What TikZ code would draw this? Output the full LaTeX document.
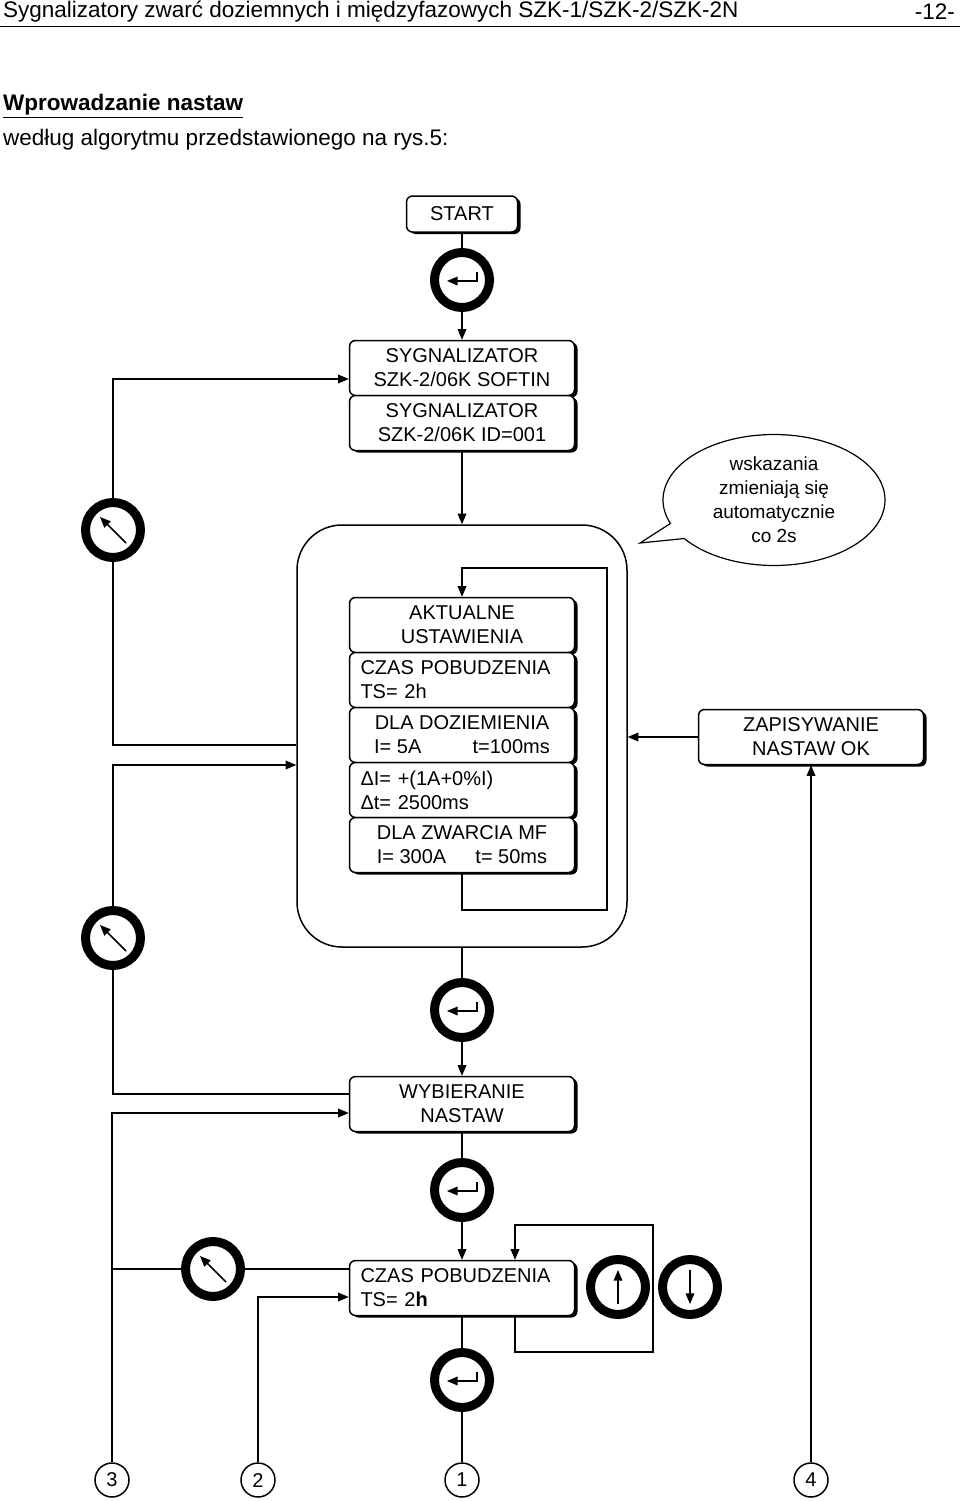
\documentclass[tikz,border=0pt]{standalone}
\usepackage{fontspec}
\setmainfont{Liberation Sans}
\usetikzlibrary{positioning, arrows, shapes, shadows, calc}
\tikzstyle{arrow} = [line width=1.5pt,->,>=triangle 45]
\tikzstyle{wire} = [line width=1.5pt]
\tikzstyle{panel} = [rectangle, rounded corners=6pt, draw=black, line width=1.5pt, fill=white, minimum width=225pt, minimum height=55pt, align=center, font=\fontsize{20}{24}\selectfont, general shadow={fill=black, shadow xshift=3pt, shadow yshift=-2pt}]
\tikzstyle{btn} = [circle, draw=black, line width=9pt, minimum size=55pt, inner sep=0pt, fill=white]
\tikzstyle{icon} = [line width=1.5pt,->,>=triangle 45]
\tikzstyle{conn} = [circle, draw=black, line width=1.5pt, minimum size=34pt, inner sep=0pt, fill=white, font=\fontsize{20}{22}\selectfont]
\newcommand{\enterkey}[2]{\node[btn] (#1) at (#2) {};
  \draw[icon] ($(#1)+(15,-8)$) -- ($(#1)+(15,1)$) -- ($(#1)+(-15,1)$);}
\newcommand{\esckey}[2]{\node[btn] (#1) at (#2) {};
  \draw[icon] ($(#1)+(13,13)$) -- ($(#1)+(-13,-13)$);}
\newcommand{\upkey}[2]{\node[btn] (#1) at (#2) {};
  \draw[icon] ($(#1)+(0,17)$) -- ($(#1)+(0,-17)$);}
\newcommand{\downkey}[2]{\node[btn] (#1) at (#2) {};
  \draw[icon] ($(#1)+(0,-17)$) -- ($(#1)+(0,17)$);}
\begin{document}
\begin{tikzpicture}[x=1pt, y=-1pt]
        \useasboundingbox (0,0) rectangle (960,1501);
        % header
        \node (title) [anchor=west, inner sep=0pt, font=\fontsize{22.5}{26}\selectfont] at (3,12) {Sygnalizatory zwarć doziemnych i międzyfazowych SZK-1/SZK-2/SZK-2N};
        \node (page) [anchor=east, inner sep=0pt, font=\fontsize{22.5}{26}\selectfont] at (955,12) {-12-};
        \draw (0,26) -- (960,26);
        \node (head) [anchor=west, inner sep=0pt, font=\bfseries\fontsize{22.5}{26}\selectfont] at (3,106) {\underline{Wprowadzanie nastaw}};
        \node (intro) [anchor=west, inner sep=0pt, font=\fontsize{22.5}{26}\selectfont] at (3,140) {według algorytmu przedstawionego na rys.5:};

        % frame of current settings
        \node (frame) [draw, rounded corners=45pt, line width=1.5pt, minimum width=330pt, minimum height=422pt] at (462,736) {};

        \node (start) [panel, minimum width=111pt, minimum height=36pt] at (462,214) {START};
        \enterkey{entA}{462,280}
        \node (sygA) [panel] at (462,368) {SYGNALIZATOR\\SZK-2/06K SOFTIN};
        \node (sygB) [panel] at (462,423) {SYGNALIZATOR\\SZK-2/06K ID=001};
        \node (akt) [panel] at (462,625) {AKTUALNE\\USTAWIENIA};
        \node (czasA) [panel, align=left, text width=203pt] at (462,680) {CZAS POBUDZENIA\\TS= 2h};
        \node (doz) [panel] at (462,735) {DLA DOZIEMIENIA\\I= 5A \hspace{40pt} t=100ms};
        \node (delta) [panel, align=left, text width=203pt] at (462,790) {ΔI= +(1A+0\%I)\\Δt= 2500ms};
        \node (zwar) [panel] at (462,845) {DLA ZWARCIA MF\\I= 300A \hspace{18pt} t= 50ms};
        \node (zap) [panel] at (811,737) {ZAPISYWANIE\\NASTAW OK};
        \enterkey{entB}{462,1010}
        \node (wyb) [panel] at (462,1104) {WYBIERANIE\\NASTAW};
        \enterkey{entC}{462,1190}
        \node (czas) [panel, align=left, text width=203pt] at (462,1288) {CZAS POBUDZENIA\\TS= 2\textbf{h}};
        \enterkey{entD}{462,1380}
        \esckey{escA}{113,530}
        \esckey{escB}{113,938}
        \esckey{escC}{213,1269}
        \upkey{up}{618,1287}
        \downkey{down}{690,1287}

        \node (bubble) [ellipse callout, draw, line width=1.2pt, minimum width=222pt, minimum height=116pt, align=center, font=\fontsize{19}{24}\selectfont, callout absolute pointer={(640,543)}] at (774,500) {wskazania\\zmieniają się\\automatycznie\\co 2s};

        \node (n1) [conn] at (462,1480) {1};
        \node (n2) [conn] at (258,1480) {2};
        \node (n3) [conn] at (112,1480) {3};
        \node (n4) [conn] at (811,1480) {4};

        \draw [wire] (start) -- (entA);
        \draw [arrow] (entA) -- (sygA);
        \draw [arrow] (sygB) -- (frame.north);
        \draw [arrow] (zwar.south) |- (607,910) |- (462,568) -- (akt.north);
        \draw [wire] (frame.south) -- (entB);
        \draw [arrow] (entB) -- (wyb);
        \draw [wire] (wyb) -- (entC);
        \draw [arrow] (entC) -- (czas);
        \draw [wire] (czas) -- (entD);
        \draw [wire] (entD) -- (n1);
        \draw [arrow] (czas.south -| 515,0) |- (653,1352) |- (515,1225) -- (czas.north -| 515,0);

        \draw [wire] (frame.west |- 0,745) -| (escA.south);
        \draw [arrow] (escA.north) |- ($(sygA.west)+(0,11)$);
        \draw [wire] (wyb.west |- 0,1094) -| (escB.south);
        \draw [arrow] (escB.north) |- (frame.west |- 0,765);
        \coordinate (jn) at (112,1269);
        \draw [wire] (czas.west |- jn) -- (escC.east);
        \draw [wire] (escC.west) -- (jn);
        \draw [arrow] (n3) |- (wyb.west |- 0,1113);
        \draw [arrow] (n2) |- (czas.west |- 0,1297);
        \draw [arrow] (zap) -- (frame.east |- zap);
        \draw [arrow] (n4) -- (zap.south);
\end{tikzpicture}
\end{document}
